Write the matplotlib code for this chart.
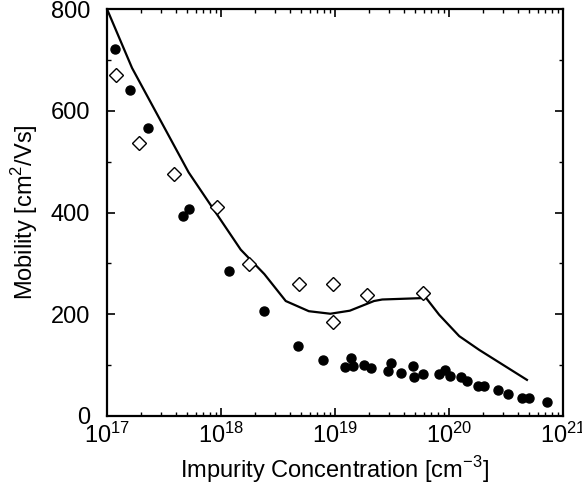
import matplotlib.pyplot as plt
import numpy as np
from matplotlib.ticker import LogLocator, MultipleLocator, NullFormatter

plt.rcParams['font.family'] = ['Liberation Sans', 'DejaVu Sans']
plt.rcParams['mathtext.fontset'] = 'custom'
plt.rcParams['mathtext.rm'] = 'Liberation Sans'

# measured mobility (filled circles)
meas_x = [1.17e17, 1.58e17, 2.28e17, 4.6e17, 5.2e17, 1.17e18, 2.37e18, 4.7e18,
          7.9e18, 1.23e19, 1.38e19, 1.45e19, 1.78e19, 2.05e19, 2.9e19, 3.07e19,
          3.83e19, 4.83e19, 4.9e19, 5.9e19, 8.2e19, 9.2e19, 1.03e20, 1.27e20,
          1.43e20, 1.81e20, 2.04e20, 2.67e20, 3.3e20, 4.37e20, 5.0e20, 7.2e20]
meas_y = [722, 640, 566, 394, 407, 285, 207, 137,
          111, 96, 114, 98, 100, 95, 89, 104,
          84, 98, 77, 83, 83, 90, 79, 77,
          68, 58, 58, 52, 44, 35, 35, 27]

# second data set (open diamonds)
dia_x = [1.19e17, 1.9e17, 3.9e17, 9.2e17, 1.75e18, 4.8e18, 9.6e18, 9.7e18, 1.9e19, 5.9e19]
dia_y = [670, 536, 476, 410, 299, 259, 260, 185, 237, 242]

# calculated curve
calc_x = [1e17, 1.66e17, 5.2e17, 1.49e18, 2.4e18, 3.7e18, 5.9e18, 9.1e18,
          1.35e19, 2.2e19, 2.6e19, 6.3e19, 8.2e19, 1.23e20, 1.84e20, 4.83e20]
calc_y = [800, 684, 479, 327, 279, 226, 206, 201,
          207, 226, 229, 232, 199, 157, 130, 71]

fig = plt.figure(figsize=(5.82, 4.87), dpi=100)
ax = fig.add_axes([0.1838, 0.1458, 0.7835, 0.8357])

ax.plot(calc_x, calc_y, color='black', lw=1.6)
ax.plot(meas_x, meas_y, 'o', color='black', ms=6.5, clip_on=False)
ax.plot(dia_x, dia_y, 'D', mfc='white', mec='black', mew=1.0, ms=7.5, clip_on=False)

ax.set_xscale('log')
ax.set_xlim(1e17, 1e21)
ax.set_ylim(0, 800)
ax.yaxis.set_major_locator(MultipleLocator(200))
ax.yaxis.set_minor_locator(MultipleLocator(100))
ax.xaxis.set_major_locator(LogLocator(base=10, numticks=10))
ax.xaxis.set_minor_locator(LogLocator(base=10, subs=np.arange(2, 10), numticks=20))
ax.xaxis.set_minor_formatter(NullFormatter())

ax.tick_params(which='both', direction='in', top=True, right=True, labelsize=17)
ax.tick_params(which='major', length=6, width=1.2)
ax.tick_params(which='minor', length=3, width=1.0)
ax.tick_params(axis='x', pad=5)
ax.tick_params(axis='y', pad=12)
for s in ax.spines.values():
    s.set_linewidth(1.6)

ax.set_xlabel('Impurity Concentration [cm$^{-3}$]', fontsize=17, labelpad=4)
ax.set_ylabel('Mobility [cm$^2$/Vs]', fontsize=17, labelpad=8)

fig.savefig('out.png', dpi=100)
